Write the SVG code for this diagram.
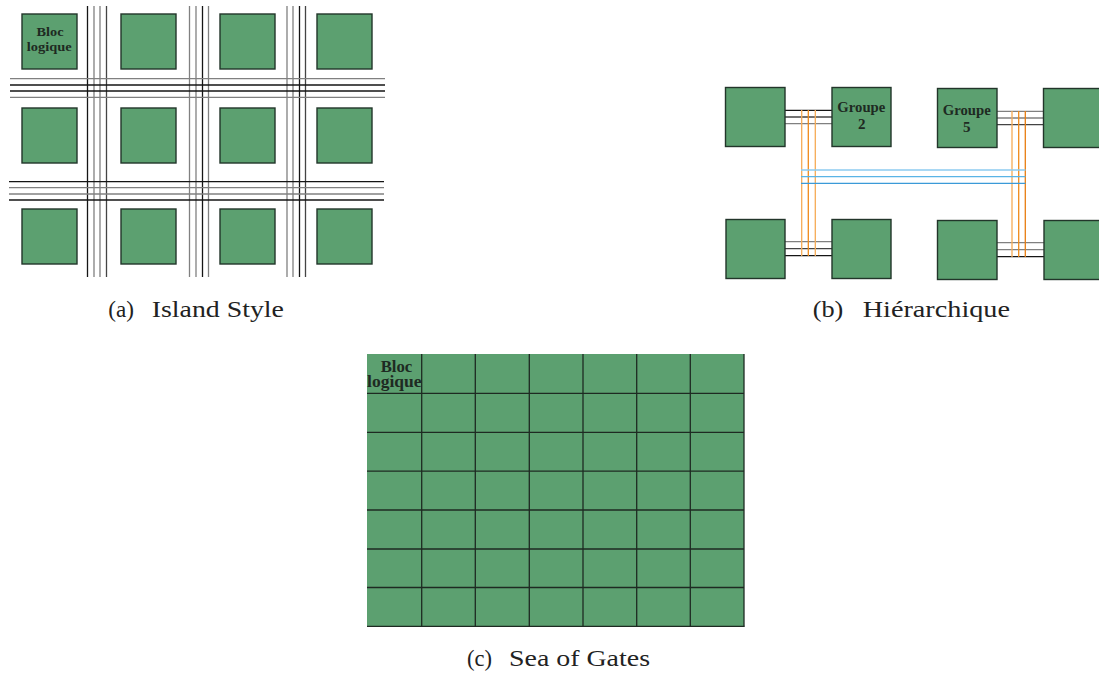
<svg xmlns="http://www.w3.org/2000/svg" width="1099" height="675" viewBox="0 0 1099 675">
<style>
.blk{fill:#5ca070;stroke:#22352a;stroke-width:1.4}
.w{fill:none;stroke-width:1.3}
.k{stroke:#151515}.g{stroke:#808080}.d{stroke:#444}
.o1{stroke:#f6ab55}.o2{stroke:#f08a1a}.o3{stroke:#e87d10}
.b1{stroke:#8ccbf0}.b2{stroke:#5ab4e6}.b3{stroke:#3b9ad8}
.lbl{font-family:"Liberation Serif",serif;font-weight:bold;fill:#1e2a22;text-anchor:middle}
.cap{font-family:"Liberation Serif",serif;fill:#222;font-size:24px}
.grid{stroke:#1e2a22;stroke-width:1.3}
</style>
<rect width="1099" height="675" fill="#fff"/>

<!-- (a) Island style -->
<g id="connectors-a">
<g class="w">
<line class="k" x1="87.5" y1="6" x2="87.5" y2="277"/>
<line class="g" x1="94" y1="6" x2="94" y2="277"/>
<line class="g" x1="100" y1="6" x2="100" y2="277"/>
<line class="d" x1="106.5" y1="6" x2="106.5" y2="277"/>
<line class="g" x1="189.5" y1="6" x2="189.5" y2="277"/>
<line class="g" x1="196" y1="6" x2="196" y2="277"/>
<line class="k" x1="202.5" y1="6" x2="202.5" y2="277"/>
<line class="g" x1="208.5" y1="6" x2="208.5" y2="277"/>
<line class="g" x1="287" y1="6" x2="287" y2="277"/>
<line class="g" x1="293" y1="6" x2="293" y2="277"/>
<line class="k" x1="299.5" y1="6" x2="299.5" y2="277"/>
<line class="d" x1="305.5" y1="6" x2="305.5" y2="277"/>
<line class="g" x1="10" y1="78.7" x2="385" y2="78.7"/>
<line class="k" x1="10" y1="85" x2="385" y2="85"/>
<line class="k" x1="10" y1="91" x2="385" y2="91"/>
<line class="g" x1="10" y1="97.3" x2="385" y2="97.3"/>
<line class="k" x1="9" y1="181.7" x2="384" y2="181.7"/>
<line class="g" x1="9" y1="187.7" x2="384" y2="187.7"/>
<line class="g" x1="9" y1="194" x2="384" y2="194"/>
<line class="k" x1="9" y1="200" x2="384" y2="200"/>
</g>
</g>
<g id="a-r1c1"><rect class="blk" x="22" y="14" width="55" height="55"/>
<text class="lbl" font-size="13.5"><tspan x="50" y="35.5" textLength="27" lengthAdjust="spacingAndGlyphs">Bloc</tspan><tspan x="49.3" y="50.5" textLength="45" lengthAdjust="spacingAndGlyphs">logique</tspan></text></g>
<g id="a-r1c2"><rect class="blk" x="121" y="14" width="55" height="55"/></g>
<g id="a-r1c3"><rect class="blk" x="220" y="14" width="55" height="55"/></g>
<g id="a-r1c4"><rect class="blk" x="317" y="14" width="55" height="55"/></g>
<g id="a-r2c1"><rect class="blk" x="22" y="108" width="55" height="55"/></g>
<g id="a-r2c2"><rect class="blk" x="121" y="108" width="55" height="55"/></g>
<g id="a-r2c3"><rect class="blk" x="220" y="108" width="55" height="55"/></g>
<g id="a-r2c4"><rect class="blk" x="317" y="108" width="55" height="55"/></g>
<g id="a-r3c1"><rect class="blk" x="22" y="209" width="55" height="55"/></g>
<g id="a-r3c2"><rect class="blk" x="121" y="209" width="55" height="55"/></g>
<g id="a-r3c3"><rect class="blk" x="220" y="209" width="55" height="55"/></g>
<g id="a-r3c4"><rect class="blk" x="317" y="209" width="55" height="55"/></g>
<text class="cap" y="316.7"><tspan x="108.3" textLength="25.7" lengthAdjust="spacingAndGlyphs">(a)</tspan><tspan x="151.7" textLength="132.3" lengthAdjust="spacingAndGlyphs">Island Style</tspan></text>

<!-- (b) Hierarchique -->
<g id="connectors-b">
<g class="w">
<line class="k" x1="785" y1="110.3" x2="832" y2="110.3"/>
<line class="d" x1="785" y1="117" x2="832" y2="117"/>
<line class="g" x1="785" y1="123.7" x2="832" y2="123.7"/>
<line class="g" x1="997" y1="111.3" x2="1043" y2="111.3"/>
<line class="g" x1="997" y1="118" x2="1043" y2="118"/>
<line class="d" x1="997" y1="124.7" x2="1043" y2="124.7"/>
<line class="g" x1="785" y1="241.7" x2="832" y2="241.7"/>
<line class="d" x1="785" y1="248.7" x2="832" y2="248.7"/>
<line class="k" x1="785" y1="255.7" x2="832" y2="255.7"/>
<line class="g" x1="997" y1="242.7" x2="1044" y2="242.7"/>
<line class="g" x1="997" y1="249.7" x2="1044" y2="249.7"/>
<line class="k" x1="997" y1="256.7" x2="1044" y2="256.7"/>
<line class="o1" x1="801.7" y1="110" x2="801.7" y2="256"/>
<line class="o2" x1="808.3" y1="110" x2="808.3" y2="256"/>
<line class="o1" x1="815.3" y1="110" x2="815.3" y2="256"/>
<line class="o1" x1="1012" y1="111" x2="1012" y2="257"/>
<line class="o2" x1="1018.7" y1="111" x2="1018.7" y2="257"/>
<line class="o3" x1="1025.3" y1="111" x2="1025.3" y2="257"/>
<line class="b1" x1="801" y1="170" x2="1025.5" y2="170"/>
<line class="b2" x1="801" y1="176.7" x2="1025.5" y2="176.7"/>
<line class="b3" x1="801" y1="183.3" x2="1025.5" y2="183.3"/>
</g>
</g>
<g id="b-g1"><rect class="blk" x="725.5" y="87.5" width="59.5" height="59"/></g>
<g id="b-g2"><rect class="blk" x="832" y="87.5" width="59" height="59"/>
<text class="lbl" font-size="15"><tspan x="861.3" y="112" textLength="48" lengthAdjust="spacingAndGlyphs">Groupe</tspan><tspan x="861.7" y="128.7">2</tspan></text></g>
<g id="b-g5"><rect class="blk" x="937.5" y="88.5" width="59.5" height="59"/>
<text class="lbl" font-size="15"><tspan x="966.7" y="114.5" textLength="48" lengthAdjust="spacingAndGlyphs">Groupe</tspan><tspan x="966.7" y="131.5">5</tspan></text></g>
<g id="b-g6"><rect class="blk" x="1043.5" y="88.5" width="60" height="59"/></g>
<g id="b-g3"><rect class="blk" x="726" y="219.5" width="59" height="59"/></g>
<g id="b-g4"><rect class="blk" x="832" y="219.5" width="59" height="59"/></g>
<g id="b-g7"><rect class="blk" x="937.5" y="220.5" width="59.5" height="59"/></g>
<g id="b-g8"><rect class="blk" x="1044" y="220.5" width="60" height="59"/></g>
<text class="cap" y="316.7"><tspan x="812.7" textLength="30.6" lengthAdjust="spacingAndGlyphs">(b)</tspan><tspan x="862.7" textLength="147.3" lengthAdjust="spacingAndGlyphs">Hiérarchique</tspan></text>

<!-- (c) Sea of Gates -->
<g id="c-sea">
<rect x="367" y="354" width="377" height="272.5" fill="#5ca070"/>
<g class="grid">
<line x1="421.7" y1="354" x2="421.7" y2="626.5"/>
<line x1="475.3" y1="354" x2="475.3" y2="626.5"/>
<line x1="529.3" y1="354" x2="529.3" y2="626.5"/>
<line x1="583" y1="354" x2="583" y2="626.5"/>
<line x1="636.7" y1="354" x2="636.7" y2="626.5"/>
<line x1="690.3" y1="354" x2="690.3" y2="626.5"/>
<line x1="744" y1="354" x2="744" y2="626.5"/>
<line x1="367" y1="393.3" x2="744" y2="393.3"/>
<line x1="367" y1="432.3" x2="744" y2="432.3"/>
<line x1="367" y1="471.2" x2="744" y2="471.2"/>
<line x1="367" y1="510" x2="744" y2="510"/>
<line x1="367" y1="549" x2="744" y2="549"/>
<line x1="367" y1="587.5" x2="744" y2="587.5"/>
<line x1="367" y1="626.3" x2="744.6" y2="626.3"/>
</g>
<text class="lbl" font-size="16"><tspan x="396.5" y="371.7" textLength="31.6" lengthAdjust="spacingAndGlyphs">Bloc</tspan><tspan x="394.3" y="387.3" textLength="54.5" lengthAdjust="spacingAndGlyphs">logique</tspan></text>
</g>
<text class="cap" y="665.5"><tspan x="467" textLength="25" lengthAdjust="spacingAndGlyphs">(c)</tspan><tspan x="509" textLength="141" lengthAdjust="spacingAndGlyphs">Sea of Gates</tspan></text>
</svg>
